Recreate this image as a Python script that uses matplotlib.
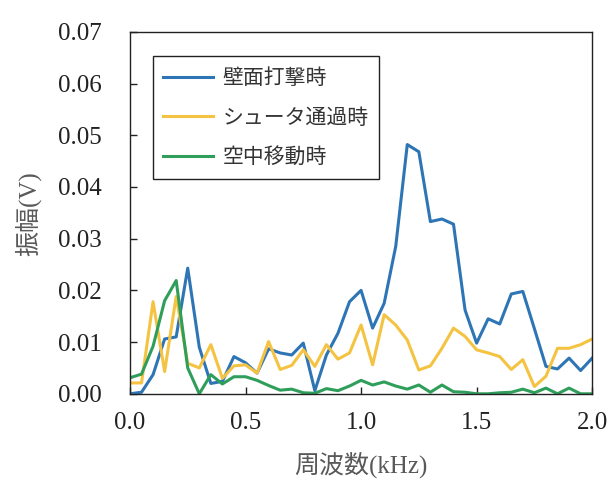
import numpy as np
import matplotlib.pyplot as plt

# frequency axis (kHz), 0.05 kHz steps
freq = np.arange(41) * 0.05

wall_hit = [0.0000, 0.0003, 0.0037, 0.0106, 0.0110, 0.0243, 0.0090, 0.0020, 0.0024, 0.0072,
            0.0060, 0.0040, 0.0087, 0.0079, 0.0075, 0.0098, 0.0006, 0.0075, 0.0117, 0.0178,
            0.0200, 0.0127, 0.0175, 0.0285, 0.0482, 0.0468, 0.0333, 0.0338, 0.0328, 0.0162,
            0.0098, 0.0145, 0.0135, 0.0193, 0.0198, 0.0126, 0.0053, 0.0048, 0.0069, 0.0045,
            0.0069]
shooter = [0.0021, 0.0021, 0.0178, 0.0043, 0.0188, 0.0059, 0.0050, 0.0095, 0.0030, 0.0054,
           0.0056, 0.0040, 0.0101, 0.0047, 0.0055, 0.0085, 0.0053, 0.0095, 0.0067, 0.0079,
           0.0133, 0.0056, 0.0153, 0.0133, 0.0104, 0.0046, 0.0054, 0.0088, 0.0127, 0.0111,
           0.0085, 0.0079, 0.0072, 0.0047, 0.0066, 0.0014, 0.0034, 0.0088, 0.0088, 0.0095,
           0.0106]
in_air = [0.0031, 0.0038, 0.0092, 0.0180, 0.0219, 0.0050, 0.0000, 0.0037, 0.0019, 0.0033,
          0.0033, 0.0026, 0.0016, 0.0007, 0.0009, 0.0002, 0.0001, 0.0010, 0.0006, 0.0015,
          0.0026, 0.0017, 0.0023, 0.0015, 0.0009, 0.0017, 0.0003, 0.0017, 0.0004, 0.0003,
          0.0000, 0.0000, 0.0002, 0.0003, 0.0009, 0.0002, 0.0011, 0.0000, 0.0011, 0.0000,
          0.0000]

labels = ['壁面打撃時', 'シュータ通過時', '空中移動時']
colors = ['#2E75B6', '#F5C342', '#2F9E5B']

serif_jp = ['Liberation Serif', 'Noto Sans CJK JP']

fig = plt.figure(figsize=(6.13, 4.82), dpi=100)
ax = fig.add_axes([0.212, 0.183, 0.754, 0.751])

for y, lab, c in zip([wall_hit, shooter, in_air], labels, colors):
    ax.plot(freq, y, color=c, lw=2.2, label=lab)

ax.set_xlim(0, 2.0)
ax.set_ylim(0, 0.07)
ax.set_xticks(np.arange(0, 2.01, 0.5))
ax.set_yticks(np.arange(0, 0.0701, 0.01))
ax.xaxis.set_major_formatter(plt.FormatStrFormatter('%.1f'))
ax.yaxis.set_major_formatter(plt.FormatStrFormatter('%.2f'))
ax.tick_params(direction='in', length=5, width=1, labelsize=18, colors='#222222')
ax.tick_params(axis='x', pad=13)
ax.tick_params(axis='y', pad=20)
for t in ax.get_xticklabels() + ax.get_yticklabels():
    t.set_fontfamily('Liberation Serif')
for s in ax.spines.values():
    s.set_linewidth(1)
    s.set_color('#222222')

ax.set_xlabel('周波数(kHz)', family=serif_jp, fontsize=18, color='#595959', va='center')
ax.set_ylabel('振幅(V)', family=serif_jp, fontsize=18, color='#595959', va='center', ha='center')
ax.xaxis.set_label_coords(0.5, -0.196)
ax.yaxis.set_label_coords(-0.221, 0.497)

leg = ax.legend(loc='upper left', bbox_to_anchor=(0.049, 0.932), borderaxespad=0,
                fancybox=False, edgecolor='#222222', framealpha=1, handlelength=2.4,
                labelspacing=0.85, borderpad=0.5, handletextpad=0.45,
                prop={'family': 'Noto Sans CJK JP', 'size': 15})
leg.get_frame().set_linewidth(1)
for t in leg.get_texts():
    t.set_color('#333333')

fig.savefig('out.png', dpi=100)
